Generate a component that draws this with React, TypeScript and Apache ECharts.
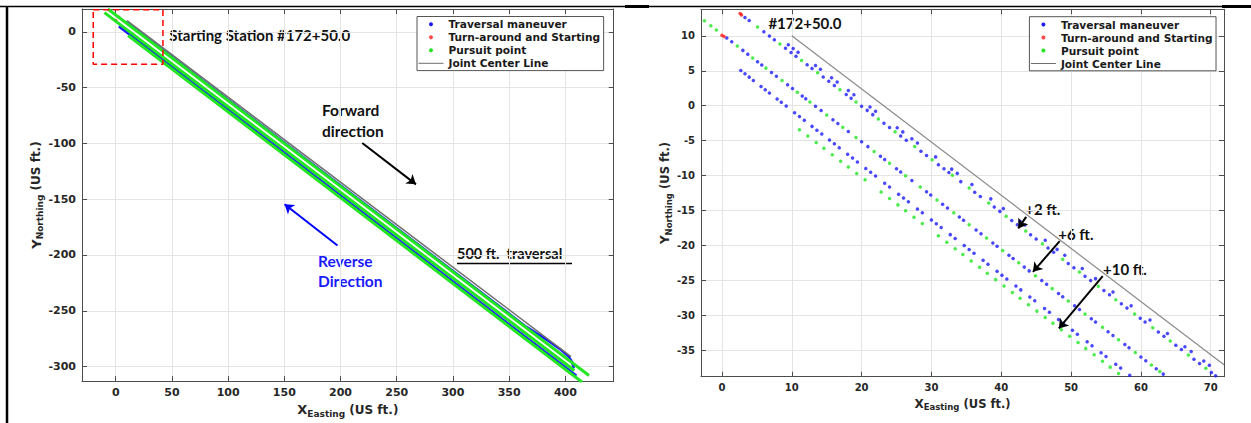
import React, { useEffect, useRef } from "react";
import * as echarts from "echarts";

// ---------- Right panel (zoom on the start, US ft.) ----------
const turnAroundPts = [[0.0, 10.1], [0.3, 9.9], [2.6, 13.2], [2.8, 13.0]];

const traversalRowA = [
  [3.3, 12.64], [3.9, 12.19], [6.0, 10.59], [6.8, 9.98], [7.5, 9.45], [9.1, 8.23], [9.9, 7.62], [10.6, 7.09],
  [12.2, 5.87], [12.9, 5.34], [14.5, 4.12], [15.3, 3.51], [16.1, 2.9], [17.8, 1.61], [18.5, 1.08], [20.0, -0.07],
  [20.8, -0.67], [21.6, -1.28], [23.2, -2.5], [24.0, -3.11], [25.6, -4.33], [26.4, -4.94], [28.5, -6.53], [29.3, -7.14],
  [31.0, -8.44], [31.8, -9.04], [32.5, -9.58], [34.2, -10.87], [36.2, -12.39], [37.0, -13.0], [39.0, -14.52], [39.8, -15.13],
  [41.5, -16.43], [42.3, -17.04], [44.2, -18.48], [45.0, -19.09], [46.7, -20.38], [47.5, -20.99], [49.6, -22.59], [50.4, -23.2],
  [52.0, -24.42], [52.8, -25.03], [54.7, -26.47], [55.5, -27.08], [57.2, -28.37], [58.0, -28.98], [59.9, -30.43], [60.6, -30.96],
  [62.5, -32.41], [63.3, -33.02], [65.0, -34.31], [65.8, -34.92], [67.6, -36.29], [68.4, -36.9], [70.1, -38.19], [70.7, -38.65],
];

const traversalRowA2 = [
  [9.5, 8.73], [10.2, 8.19], [10.9, 7.66], [13.4, 5.76], [14.1, 5.23], [15.7, 4.01], [16.5, 3.4], [18.1, 2.18],
  [18.9, 1.57], [21.2, -0.18], [22.0, -0.79], [25.1, -3.15], [25.9, -3.75], [27.2, -4.74], [28.0, -5.35], [30.6, -7.33],
  [32.9, -9.08], [33.7, -9.69], [35.8, -11.29], [38.5, -13.34], [40.3, -14.71], [42.7, -16.54], [43.4, -17.07], [46.3, -19.28],
  [48.0, -20.57], [49.1, -21.41], [51.6, -23.31], [53.5, -24.76], [56.0, -26.66], [58.6, -28.64], [61.3, -30.69], [63.8, -32.6],
  [66.3, -34.5], [67.2, -35.18], [69.0, -36.55], [69.8, -37.16],
];

const traversalRowB = [
  [0.7, 9.69], [1.4, 9.15], [3.0, 7.92], [3.7, 7.38], [5.1, 6.3], [5.7, 5.84], [7.1, 4.76], [7.8, 4.23],
  [9.4, 2.99], [10.1, 2.45], [11.5, 1.38], [12.0, 0.99], [13.4, -0.09], [14.2, -0.7], [15.9, -2.01], [16.6, -2.55],
  [18.1, -3.71], [20.0, -5.17], [20.9, -5.86], [22.7, -7.25], [23.3, -7.71], [25.0, -9.02], [25.6, -9.48], [27.2, -10.71],
  [29.3, -12.33], [29.9, -12.79], [31.6, -14.1], [32.3, -14.64], [34.0, -15.95], [34.6, -16.41], [36.4, -17.8], [37.1, -18.34],
  [38.8, -19.65], [39.4, -20.11], [41.1, -21.42], [41.7, -21.88], [43.3, -23.11], [44.0, -23.65], [45.8, -25.04], [46.5, -25.57],
  [48.2, -26.88], [48.8, -27.35], [50.5, -28.65], [51.2, -29.19], [52.9, -30.5], [53.5, -30.96], [55.3, -32.35], [56.0, -32.89],
  [57.7, -34.2], [58.3, -34.66], [60.0, -35.97], [60.7, -36.51], [62.2, -37.66], [63.2, -38.43],
];

const traversalRowC = [
  [2.7, 5.03], [3.3, 4.56], [3.9, 4.09], [4.5, 3.62], [5.6, 2.76], [6.2, 2.29], [6.8, 1.82], [7.9, 0.96],
  [8.5, 0.49], [9.2, -0.06], [10.4, -1.0], [11.1, -1.55], [11.8, -2.1], [12.9, -2.96], [13.6, -3.51], [14.3, -4.05],
  [15.4, -4.92], [16.1, -5.46], [16.8, -6.01], [18.0, -6.95], [18.7, -7.5], [19.4, -8.05], [20.6, -8.99], [21.3, -9.54],
  [22.0, -10.08], [23.3, -11.1], [24.0, -11.65], [25.3, -12.67], [26.0, -13.22], [26.7, -13.76], [28.0, -14.78], [28.7, -15.33],
  [30.0, -16.35], [30.7, -16.9], [31.4, -17.44], [32.7, -18.46], [33.4, -19.01], [34.7, -20.03], [35.4, -20.58], [36.1, -21.12],
  [37.4, -22.14], [38.1, -22.69], [39.4, -23.71], [40.1, -24.26], [40.8, -24.8], [42.1, -25.82], [42.8, -26.37], [44.1, -27.39],
  [44.8, -27.94], [46.2, -29.03], [46.9, -29.58], [48.2, -30.6], [48.9, -31.15], [50.2, -32.16], [50.9, -32.71], [52.3, -33.81],
  [53.0, -34.36], [54.3, -35.38], [55.0, -35.92], [56.4, -37.02], [57.1, -37.57], [58.4, -38.59],
];

const pursuitRowA = [
  [5.1, 11.27], [8.3, 8.84], [11.4, 6.48], [13.7, 4.73], [16.9, 2.29], [19.2, 0.54], [22.4, -1.89], [24.8, -3.72],
  [27.6, -5.85], [30.1, -7.75], [33.0, -9.96], [35.4, -11.78], [38.2, -13.92], [40.7, -15.82], [43.5, -17.95], [45.9, -19.78],
  [48.8, -21.98], [51.2, -23.81], [53.9, -25.86], [56.4, -27.77], [59.1, -29.82], [61.7, -31.8], [64.2, -33.7], [66.8, -35.68],
  [69.3, -37.58],
];

const pursuitRowB = [
  [-2.5, 12.16], [-1.6, 11.46], [-0.8, 10.85], [2.2, 8.54], [4.4, 6.84], [6.3, 5.38], [8.6, 3.61], [10.8, 1.92],
  [12.6, 0.53], [15.0, -1.32], [17.3, -3.09], [19.2, -4.55], [21.8, -6.56], [24.0, -8.25], [26.3, -10.02], [28.4, -11.64],
  [30.8, -13.49], [33.2, -15.33], [35.4, -17.03], [37.9, -18.95], [40.2, -20.72], [42.5, -22.49], [44.9, -24.34], [47.3, -26.19],
  [49.6, -27.96], [52.0, -29.81], [54.5, -31.73], [56.8, -33.51], [59.2, -35.35], [61.5, -37.12], [62.7, -38.05],
];

const pursuitRowD = [
  [11.1, -3.43], [12.3, -4.35], [13.5, -5.26], [14.6, -6.1], [15.8, -7.02], [17.0, -7.94], [18.1, -8.78], [19.3, -9.7],
  [20.5, -10.61], [22.8, -12.37], [24.0, -13.29], [25.2, -14.2], [26.3, -15.04], [27.5, -15.96], [28.7, -16.88], [31.0, -18.63],
  [32.2, -19.55], [33.4, -20.47], [34.5, -21.31], [35.7, -22.23], [36.9, -23.14], [38.0, -23.98], [39.2, -24.9], [40.4, -25.82],
  [41.6, -26.73], [42.7, -27.57], [43.9, -28.49], [45.1, -29.41], [46.3, -30.32], [47.4, -31.16], [48.6, -32.08], [49.8, -33.0],
  [51.0, -33.91], [52.1, -34.75], [53.3, -35.67], [54.5, -36.59], [55.6, -37.43], [56.8, -38.35],
];

const jointCenterZoom = [[10, 10], [71.9, -37.1]];

// ---------- Left panel (full 500 ft traversal) ----------
const jointCenterFull = [[10, 10], [405, -291]];
const pursuitFullA = [[-7, 20.4], [421, -308]];
const pursuitFullB = [[-10, 17.2], [408, -303.5]];
const pursuitFullD = [[11, -3.4], [415, -314]];
const traversalFullA = [[9, 8.9], [365, -264.2], [385, -277], [396, -285], [403, -291], [406, -296], [407.5, -301.5]];
const traversalFullB = [[0.5, 9.1], [407, -303.1]];
const traversalFullC = [[3, 5], [410, -308]];
const traversalFullStart = [[3, 5], [40, -23.3]];
const startBox = [[-20, 19.8], [42, 19.8], [42, -29], [-20, -29], [-20, 19.8]];

// axis extents
const leftX = [-30, 443];
const leftY = [-313, 20.4];
const rightX = [-3, 71.9];
const rightY = [-38.8, 13.8];

// annotation arrows (data coordinates)
const forwardArrow = [[219.3, -99.6], [267.1, -136.7]];
const reverseArrow = [[197.3, -191.5], [150.2, -154.5]];
const offsetArrows = [
  [[43.57, -15.91], [42.44, -17.57]],
  [[48.37, -19.39], [44.54, -23.79]],
  [[54.53, -24.4], [48.25, -31.89]],
];

const NAMES = ["Traversal maneuver", "Turn-around and Starting", "Pursuit point", "Joint Center Line"];

const BLUE = "#1a1aff";
const RED = "#ff1a1a";
const GREEN = "#22e622";
const GRAY = "#6e6e6e";
const AXIS = "#4d4d4d";
const FONT = "DejaVu Sans";

function nameRich(main: number, sub: number, unit: number, pad: number) {
  return {
    color: "#262626",
    fontWeight: "bold",
    fontFamily: FONT,
    rich: {
      m: { fontSize: main, fontWeight: "bold", fontFamily: FONT, color: "#262626" },
      s: { fontSize: sub, fontWeight: "bold", fontFamily: FONT, color: "#262626", padding: [pad, 0, 0, 0] },
      u: { fontSize: unit, fontWeight: "bold", fontFamily: FONT, color: "#262626" },
    },
  };
}

function mainAxis(grid: number, ext: number[], split: number, pos: string, fs: number, name: string, gap: number, ns: any) {
  return {
    type: "value",
    gridIndex: grid,
    min: ext[0],
    max: ext[1],
    splitNumber: split,
    position: pos,
    axisLine: { show: true, onZero: false, lineStyle: { color: AXIS, width: 1 } },
    axisTick: { show: true, inside: true, length: 5, lineStyle: { color: AXIS } },
    axisLabel: {
      show: true,
      fontSize: fs,
      fontWeight: "bold",
      fontFamily: FONT,
      color: "#262626",
      margin: 6,
      showMinLabel: false,
      showMaxLabel: false,
    },
    splitLine: { show: true, lineStyle: { color: "#e4e4e4", width: 1 } },
    name,
    nameLocation: "middle",
    nameGap: gap,
    nameTextStyle: ns,
  };
}

function boxAxis(grid: number, ext: number[], split: number, pos: string) {
  return {
    type: "value",
    gridIndex: grid,
    min: ext[0],
    max: ext[1],
    splitNumber: split,
    position: pos,
    axisLine: { show: true, onZero: false, lineStyle: { color: AXIS, width: 1 } },
    axisTick: { show: true, inside: true, length: 5, lineStyle: { color: AXIS } },
    axisLabel: { show: false },
    splitLine: { show: false },
  };
}

function legendAt(left: number, top: number) {
  return {
    orient: "vertical",
    left,
    top,
    itemWidth: 25,
    itemHeight: 4,
    itemGap: 0,
    padding: [1.3, 3.5, 0.8, 1.5],
    borderColor: "#555",
    borderWidth: 1,
    backgroundColor: "#fff",
    selectedMode: false,
    textStyle: { fontSize: 10.6, fontWeight: "bold", fontFamily: FONT, color: "#1a1a1a", lineHeight: 13 },
    data: [
      { name: NAMES[0], icon: "circle" },
      { name: NAMES[1], icon: "circle" },
      { name: NAMES[2], icon: "circle" },
      { name: NAMES[3], icon: "path://M0 0H100V4H0Z" },
    ],
  };
}

function lineS(name: string, data: number[][], color: string, width: number, xi: number, extra: any = {}) {
  return {
    type: "line",
    name,
    data,
    xAxisIndex: xi,
    yAxisIndex: xi,
    symbol: "none",
    showSymbol: false,
    lineStyle: { color, width },
    itemStyle: { color },
    silent: true,
    ...extra,
  };
}

function dotS(name: string, data: number[][], color: string, xi: number, size = 3.5) {
  return {
    type: "scatter",
    name,
    data,
    xAxisIndex: xi,
    yAxisIndex: xi,
    symbol: "circle",
    symbolSize: size,
    itemStyle: { color },
    silent: true,
  };
}

function arrowS(xi: number, color: string, pairs: number[][][]) {
  return {
    type: "line",
    name: "annotation",
    data: [],
    xAxisIndex: xi,
    yAxisIndex: xi,
    silent: true,
    markLine: {
      silent: true,
      symbol: ["none", "arrow"],
      symbolSize: 9,
      label: { show: false },
      lineStyle: { color, width: 2, type: "solid" },
      emphasis: { disabled: true },
      data: pairs.map((p) => [{ coord: p[0] }, { coord: p[1] }]),
    },
  };
}

function txt(text: string, x: number, y: number, size: number, fill = "#111") {
  return {
    type: "text",
    x,
    y,
    silent: true,
    style: { text, fill, fontSize: size, fontFamily: "Lato", fontWeight: "bold", align: "left", verticalAlign: "middle" },
  };
}

export default function App() {
  const ref = useRef<HTMLDivElement>(null);
  useEffect(() => {
    if (!ref.current) return;
    const chart = echarts.init(ref.current, null, { renderer: "svg" });
    const xName = "{m|X}{s|Easting} {u|(US ft.)}";
    const yName = "{m|Y}{s|Northing} {u|(US ft.)}";
    chart.setOption({
      animation: false,
      backgroundColor: "#fff",
      grid: [
        { left: 82, top: 9, width: 531.7, height: 375, containLabel: false },
        { left: 701, top: 9.3, width: 523, height: 367.4, containLabel: false },
      ],
      xAxis: [
        mainAxis(0, leftX, 9, "bottom", 11, xName, 15, nameRich(13, 9, 12, 8)),
        boxAxis(0, leftX, 9, "top"),
        mainAxis(1, rightX, 7, "bottom", 10, xName, 17, nameRich(12, 8.5, 11.5, 7)),
        boxAxis(1, rightX, 7, "top"),
      ],
      yAxis: [
        mainAxis(0, leftY, 7, "left", 11, yName, 31, nameRich(13, 9, 12, 8)),
        boxAxis(0, leftY, 7, "right"),
        mainAxis(1, rightY, 10, "left", 10, yName, 25, nameRich(12, 8.5, 11.5, 7)),
        boxAxis(1, rightY, 10, "right"),
      ],
      legend: [legendAt(417, 16.5), legendAt(1029.4, 16.7)],
      series: [
        // left panel
        lineS(NAMES[0], traversalFullC, BLUE, 2, 0),
        lineS(NAMES[0], traversalFullStart, BLUE, 3, 0),
        lineS(NAMES[0], traversalFullB, BLUE, 1.5, 0),
        lineS(NAMES[0], traversalFullA, BLUE, 2.5, 0),
        dotS(NAMES[1], turnAroundPts, RED, 0, 3),
        lineS(NAMES[3], jointCenterFull, GRAY, 1.5, 0),
        lineS(NAMES[2], pursuitFullA, GREEN, 3, 0),
        lineS(NAMES[2], pursuitFullB, GREEN, 3, 0),
        lineS(NAMES[2], pursuitFullD, GREEN, 3, 0),
        lineS("start box", startBox, "#ff0000", 1.5, 0, { lineStyle: { color: "#ff0000", width: 1.5, type: [6, 4] } }),
        arrowS(0, "#000", [forwardArrow]),
        arrowS(0, "#0000ff", [reverseArrow]),
        // right panel
        dotS(NAMES[0], traversalRowA, BLUE, 2),
        dotS(NAMES[0], traversalRowA2, BLUE, 2),
        dotS(NAMES[0], traversalRowB, BLUE, 2),
        dotS(NAMES[0], traversalRowC, BLUE, 2),
        dotS(NAMES[1], turnAroundPts, RED, 2),
        dotS(NAMES[2], pursuitRowA, GREEN, 2),
        dotS(NAMES[2], pursuitRowB, GREEN, 2),
        dotS(NAMES[2], pursuitRowD, GREEN, 2),
        lineS(NAMES[3], jointCenterZoom, "#8a8a8a", 1.2, 2),
        arrowS(2, "#000", offsetArrows),
      ],
      graphic: [
        { type: "line", silent: true, shape: { x1: 0, y1: 6.5, x2: 1251, y2: 6.5 }, style: { stroke: "#000", lineWidth: 1.5 } },
        { type: "line", silent: true, shape: { x1: 7, y1: 6, x2: 7, y2: 423 }, style: { stroke: "#000", lineWidth: 2.5 } },
        { type: "rect", silent: true, shape: { x: 625, y: 5, width: 24, height: 3 }, style: { fill: "#000" } },
        { type: "rect", silent: true, shape: { x: 1222, y: 5, width: 29, height: 3 }, style: { fill: "#000" } },
        txt("Starting Station #172+50.0", 169.3, 35, 15),
        txt("Forward", 322, 110, 15.5),
        txt("direction", 322, 131, 15.5),
        txt("Reverse", 318, 260.7, 15.5, "#1a1aff"),
        txt("Direction", 318, 281, 15.5, "#1a1aff"),
        txt("500 ft.  traversal", 457, 253.5, 14.5),
        { type: "line", silent: true, shape: { x1: 457, y1: 263.5, x2: 572, y2: 263.5 }, style: { stroke: "#000", lineWidth: 1.5 } },
        txt("#172+50.0", 768.4, 23.3, 15),
        txt("+2 ft.", 1025.2, 209, 15),
        txt("+6 ft.", 1058.3, 234, 15),
        txt("+10 ft.", 1103, 269.3, 15),
      ],
    });
    return () => chart.dispose();
  }, []);
  return (
    <div
      ref={ref}
      style={{ position: "fixed", left: 0, top: 0, width: 1251, height: 423, background: "#fff" }}
    />
  );
}
